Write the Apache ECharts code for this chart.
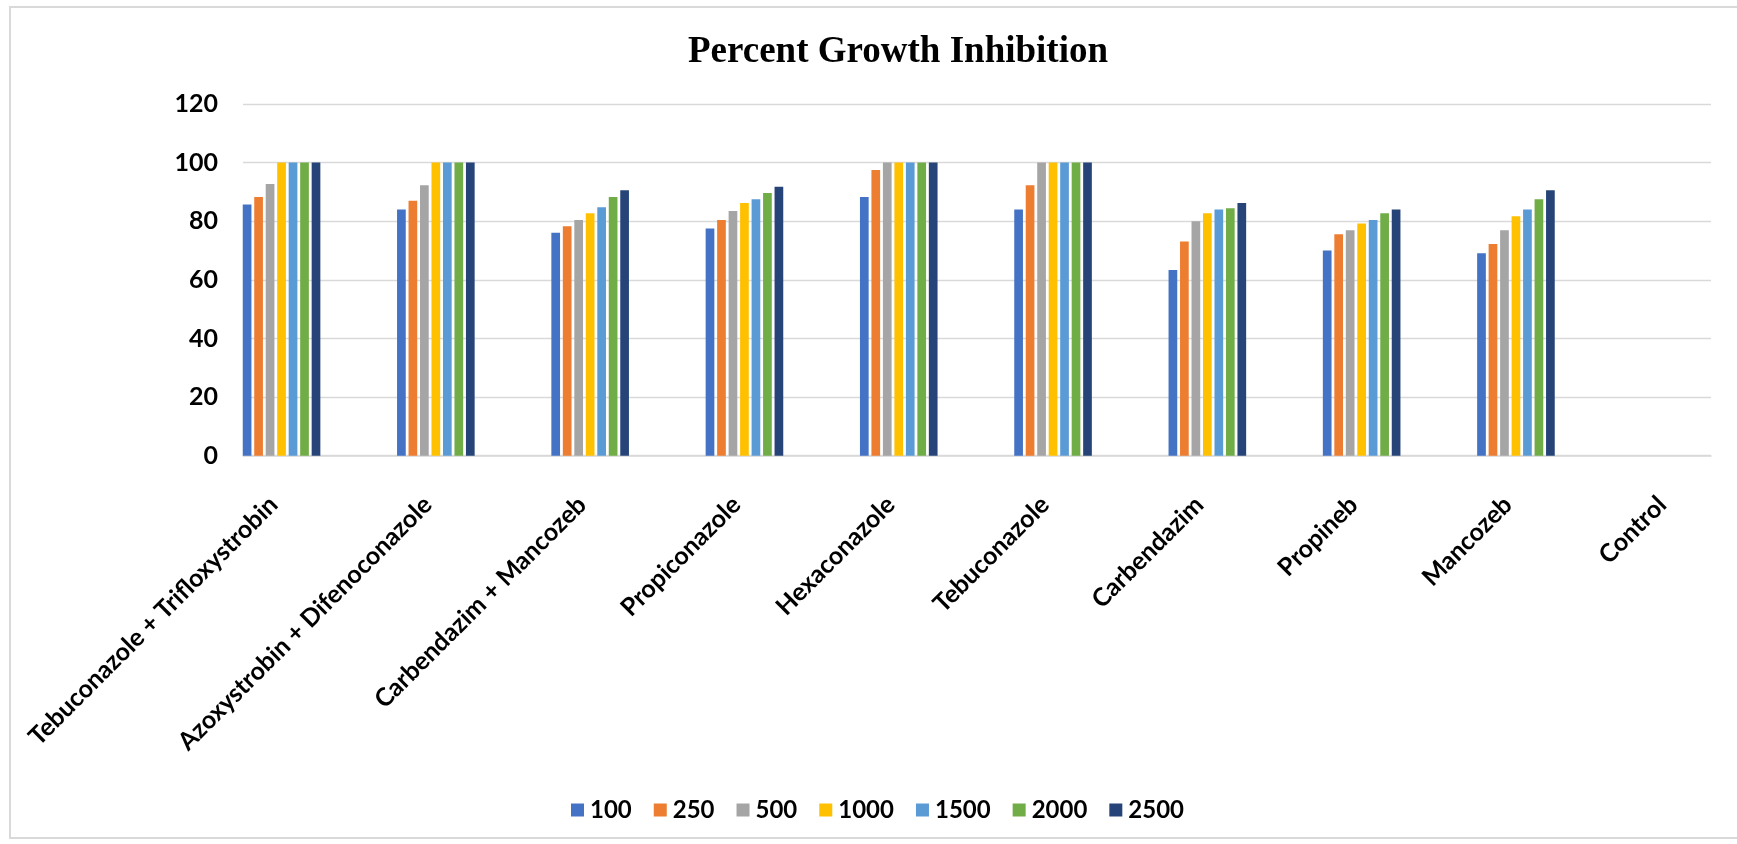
<!DOCTYPE html>
<html>
<head>
<meta charset="utf-8">
<script src="https://cdn.jsdelivr.net/npm/echarts@6/dist/echarts.min.js"></script>
<style>
  html, body { margin: 0; padding: 0; background: #ffffff; overflow: hidden; }
  #chart { width: 1770px; height: 844px; }
</style>
</head>
<body>
<div id="chart"></div>
<script>
// Fungicide treatments (categories) and concentrations (series)
const categories = [
  'Tebuconazole + Trifloxystrobin',
  'Azoxystrobin + Difenoconazole',
  'Carbendazim + Mancozeb',
  'Propiconazole',
  'Hexaconazole',
  'Tebuconazole',
  'Carbendazim',
  'Propineb',
  'Mancozeb',
  'Control'
];
const seriesNames = ['100', '250', '500', '1000', '1500', '2000', '2500'];

// Percent growth inhibition per concentration
const inh100  = [85.7, 84.0, 76.1, 77.5, 88.3, 84.0, 63.4, 70.0, 69.1, 0];
const inh250  = [88.3, 87.0, 78.3, 80.4, 97.5, 92.3, 73.1, 75.6, 72.2, 0];
const inh500  = [92.7, 92.3, 80.4, 83.5, 100, 100, 80.0, 76.9, 76.9, 0];
const inh1000 = [100, 100, 82.7, 86.2, 100, 100, 82.7, 79.2, 81.7, 0];
const inh1500 = [100, 100, 84.8, 87.5, 100, 100, 84.0, 80.4, 84.0, 0];
const inh2000 = [100, 100, 88.3, 89.6, 100, 100, 84.4, 82.7, 87.5, 0];
const inh2500 = [100, 100, 90.6, 91.8, 100, 100, 86.2, 84.0, 90.6, 0];

const yTicks = { min: 0, max: 120, interval: 20 };

const allValues = [inh100, inh250, inh500, inh1000, inh1500, inh2000, inh2500];
const colors = ['#4472C4', '#ED7D31', '#A5A5A5', '#FFC000', '#5B9BD5', '#70AD47', '#264478'];

const FONT = 'Lato, "Noto Sans", sans-serif';
const plotTop = 104;
const plotBottom = 844 - 455.7;
const bandLeft = 204.4;
const bandWidth = 1543;

const chart = echarts.init(document.getElementById('chart'), null, { renderer: 'canvas' });

const option = {
  backgroundColor: '#ffffff',
  animation: false,
  color: colors,
  title: {
    text: 'Percent Growth Inhibition',
    left: 893,
    textAlign: 'center',
    top: 29,
    textStyle: {
      fontFamily: '"Liberation Serif", "Times New Roman", serif',
      fontWeight: 'bold',
      fontSize: 37,
      color: '#000000'
    }
  },
  legend: {
    data: seriesNames,
    top: 793,
    left: 566,
    itemWidth: 13,
    itemHeight: 13,
    itemGap: 22,
    icon: 'rect',
    textStyle: { fontFamily: FONT, fontWeight: 'bold', fontSize: 24, color: '#000000', padding: [0, 0, 0, 1] }
  },
  graphic: [{
    type: 'rect',
    shape: { x: 10, y: 7, width: 1800, height: 831 },
    style: { fill: 'none', stroke: '#d9d9d9', lineWidth: 2 },
    silent: true,
    z: -1
  }],
  grid: [
    // plot frame: gridlines, axis line and value labels
    { left: 243, width: 1711 - 243, top: plotTop, bottom: plotBottom },
    // bar groups
    { left: bandLeft, width: bandWidth, top: plotTop, bottom: plotBottom },
    // category labels
    { left: bandLeft - 8, width: bandWidth, top: plotTop, bottom: plotBottom }
  ],
  xAxis: [
    {
      gridIndex: 0, type: 'category', data: categories,
      axisLine: { show: true, lineStyle: { color: '#d9d9d9', width: 1.5 } },
      axisTick: { show: false }, axisLabel: { show: false }, splitLine: { show: false }
    },
    {
      gridIndex: 1, type: 'category', data: categories,
      axisLine: { show: false }, axisTick: { show: false }, axisLabel: { show: false }
    },
    {
      gridIndex: 2, type: 'category', data: categories,
      axisLine: { show: false }, axisTick: { show: false },
      axisLabel: {
        show: true, interval: 0, rotate: 45, margin: 45,
        fontFamily: FONT, fontWeight: 'bold', fontSize: 25, color: '#000000'
      }
    }
  ],
  yAxis: [
    {
      gridIndex: 0, type: 'value', min: yTicks.min, max: yTicks.max, interval: yTicks.interval,
      axisLine: { show: false }, axisTick: { show: false },
      axisLabel: { margin: 25, fontFamily: FONT, fontWeight: 'bold', fontSize: 25, color: '#000000' },
      splitLine: { show: true, lineStyle: { color: '#d9d9d9', width: 1.3 } }
    },
    {
      gridIndex: 1, type: 'value', min: yTicks.min, max: yTicks.max, interval: yTicks.interval,
      show: false, splitLine: { show: false }
    },
    {
      gridIndex: 2, type: 'value', min: yTicks.min, max: yTicks.max, interval: yTicks.interval,
      show: false, splitLine: { show: false }
    }
  ],
  series: seriesNames.map((name, i) => ({
    name: name,
    type: 'bar',
    xAxisIndex: 1,
    yAxisIndex: 1,
    data: allValues[i],
    barWidth: 8.7,
    barGap: '32%',
    itemStyle: { color: colors[i] }
  }))
};

chart.setOption(option);
</script>
</body>
</html>
